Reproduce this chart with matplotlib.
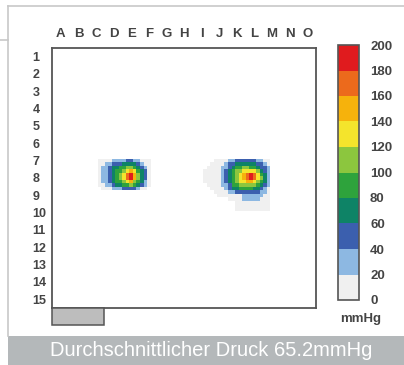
import numpy as np
import matplotlib
matplotlib.use("Agg")
import matplotlib.pyplot as plt
from matplotlib.colors import ListedColormap, BoundaryNorm
from matplotlib.cm import ScalarMappable
from matplotlib.patches import Rectangle
from matplotlib.lines import Line2D

plt.rcParams['font.family'] = ['Liberation Sans', 'DejaVu Sans']

# sensor mat: 15 x 15 labelled cells, each split into 5 x 5 sub-cells
col_labels = list("ABCDEFGHIJKLMNO")
row_labels = [str(i) for i in range(1, 16)]
sub = 5

# mmHg scale
levels = [0, 20, 40, 60, 80, 100, 120, 140, 160, 180, 200]
level_colors = ['#f0f0f0', '#8db8e2', '#3b5fae', '#0e8366', '#2ea33c',
                '#8cc63e', '#f4e42c', '#f6b20c', '#ec6a1c', '#e01b1e']

# left foot, sub-rows 32..40, sub-cols 13..27 (mmHg)
left_row0, left_col0 = 32, 13
left_foot = [
    [5, 5, 10, 10, 20, 25, 30, 35, 40, 45, 35, 25, 15, 10, 5],
    [5, 10, 20, 30, 40, 45, 55, 60, 70, 75, 60, 45, 35, 15, 5],
    [10, 20, 30, 40, 60, 70, 80, 90, 100, 110, 95, 75, 55, 30, 5],
    [10, 25, 35, 45, 65, 80, 95, 110, 130, 150, 120, 90, 65, 40, 10],
    [10, 30, 35, 50, 70, 90, 110, 135, 170, 190, 145, 100, 70, 45, 10],
    [10, 30, 35, 50, 70, 90, 110, 135, 170, 195, 140, 100, 70, 45, 10],
    [10, 25, 35, 45, 65, 80, 95, 110, 130, 145, 115, 85, 60, 35, 5],
    [5, 15, 25, 35, 50, 60, 70, 80, 90, 100, 80, 60, 45, 20, 5],
    [0, 5, 10, 15, 20, 30, 35, 40, 45, 45, 40, 30, 15, 5, 0],
]

# right foot, sub-rows 32..46, sub-cols 43..61 (mmHg)
right_row0, right_col0 = 32, 43
right_foot = [
    [0, 0, 0, 5, 5, 10, 15, 20, 30, 40, 45, 45, 45, 45, 40, 35, 25, 15, 5],
    [0, 0, 5, 10, 10, 15, 25, 40, 55, 65, 70, 75, 75, 70, 65, 55, 40, 25, 10],
    [0, 5, 10, 10, 10, 20, 35, 55, 70, 85, 95, 100, 100, 95, 90, 75, 55, 40, 20],
    [5, 10, 10, 10, 15, 25, 45, 65, 85, 100, 115, 125, 135, 130, 120, 100, 75, 55, 30],
    [10, 10, 10, 10, 15, 30, 50, 75, 95, 110, 125, 145, 170, 180, 160, 125, 95, 65, 35],
    [10, 10, 10, 10, 15, 30, 50, 75, 95, 110, 125, 145, 170, 195, 170, 135, 100, 70, 35],
    [5, 10, 10, 10, 15, 25, 45, 70, 90, 105, 120, 135, 145, 150, 135, 115, 90, 60, 30],
    [0, 5, 10, 10, 10, 20, 35, 55, 80, 95, 105, 110, 115, 110, 100, 85, 70, 45, 20],
    [0, 0, 5, 5, 10, 15, 25, 40, 60, 70, 80, 85, 85, 85, 75, 65, 50, 35, 15],
    [0, 0, 0, 5, 5, 10, 15, 25, 35, 45, 50, 55, 55, 55, 50, 40, 30, 20, 10],
    [0, 0, 0, 0, 5, 5, 10, 10, 15, 15, 15, 25, 30, 30, 30, 30, 25, 10, 10],
    [0, 0, 0, 0, 0, 0, 0, 5, 5, 10, 10, 25, 25, 25, 25, 25, 10, 10, 10],
    [0, 0, 0, 0, 0, 0, 0, 0, 0, 10, 10, 10, 10, 10, 10, 10, 10, 10, 10],
    [0, 0, 0, 0, 0, 0, 0, 0, 0, 10, 10, 10, 10, 10, 10, 10, 10, 10, 10],
    [0, 0, 0, 0, 0, 0, 0, 0, 0, 5, 5, 5, 5, 5, 5, 5, 5, 5, 5],
]

mean_pressure = 65.2

W, H = 404, 365
txt_col = '#444444'
line_col = '#c8c8c8'


def fx(px):
    return px / W


def fy(py):
    return 1 - py / H


pressure = np.zeros((15 * sub, 15 * sub))
lf = np.array(left_foot, dtype=float)
rf = np.array(right_foot, dtype=float)
pressure[left_row0:left_row0 + lf.shape[0], left_col0:left_col0 + lf.shape[1]] = lf
pressure[right_row0:right_row0 + rf.shape[0], right_col0:right_col0 + rf.shape[1]] = rf

cmap = ListedColormap(level_colors)
norm = BoundaryNorm(levels, cmap.N)

fig = plt.figure(figsize=(W / 100, H / 100), dpi=100)

# page decoration: thin frame lines and bottom banner
fig.add_artist(Line2D([fx(8), 1], [fy(6), fy(6)], color=line_col, lw=1.2))
fig.add_artist(Line2D([fx(8), fx(8)], [fy(6), fy(336)], color=line_col, lw=1.2))
fig.add_artist(Line2D([0, fx(8)], [fy(40), fy(40)], color=line_col, lw=1.2))
fig.add_artist(Rectangle((fx(8), 0), 1 - fx(8), fy(336), transform=fig.transFigure,
                         facecolor='#b4b8ba', edgecolor='none'))
fig.text(fx(211), fy(351), 'Durchschnittlicher Druck %.1fmmHg' % mean_pressure,
         color='white', fontsize=14.5, ha='center', va='center')

# pressure map
ax = fig.add_axes([fx(52), fy(308), fx(316) - fx(52), fy(48) - fy(308)])
ax.imshow(np.ma.masked_equal(pressure, 0), cmap=cmap, norm=norm,
          extent=(0, 15, 15, 0), interpolation='nearest', aspect='auto')
ax.set_xlim(0, 15)
ax.set_ylim(15, 0)
ax.set_xticks(np.arange(15) + 0.5)
ax.set_xticklabels(col_labels)
ax.set_yticks(np.arange(15) + 0.5)
ax.set_yticklabels(row_labels, ha='left')
ax.xaxis.tick_top()
ax.tick_params(axis='x', length=0, pad=6, labelsize=9.5, labelcolor=txt_col)
ax.tick_params(axis='y', length=0, pad=14, labelsize=9, labelcolor=txt_col)
for lab in ax.get_xticklabels() + ax.get_yticklabels():
    lab.set_fontweight('bold')
for s in ax.spines.values():
    s.set_color('#555555')
    s.set_linewidth(1.3)

# small grey tab under the mat
fig.add_artist(Rectangle((fx(52), fy(325)), fx(104) - fx(52), fy(308) - fy(325),
                         transform=fig.transFigure, facecolor='#bdbdbd',
                         edgecolor='#555555', lw=1.1))

# colour scale
cax = fig.add_axes([fx(338), fy(300), fx(359) - fx(338), fy(45) - fy(300)])
cb = fig.colorbar(ScalarMappable(norm=norm, cmap=cmap), cax=cax, ticks=levels)
cb.outline.set_edgecolor('#555555')
cb.outline.set_linewidth(1.2)
cax.tick_params(length=0, pad=8, labelsize=9.5, labelcolor=txt_col)
for lab in cax.get_yticklabels():
    lab.set_fontweight('bold')
fig.text(fx(361), fy(319), 'mmHg', color=txt_col, fontsize=9.5, fontweight='bold',
         ha='center', va='center')

fig.savefig('out.png', dpi=100)
